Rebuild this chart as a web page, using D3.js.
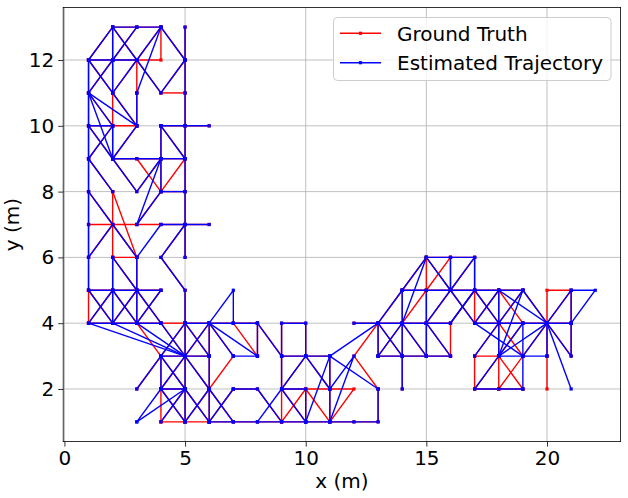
<!DOCTYPE html>
<html>
<head>
<meta charset="utf-8">
<script src="https://cdn.jsdelivr.net/npm/d3@7"></script>
<style>
  body { margin: 0; background: #fff; }
  text { font-family: "DejaVu Sans", sans-serif; }
</style>
</head>
<body>
<div id="chart"></div>
<script>
// trajectories as polylines, flat lists x0,y0, x1,y1, ...
// strokes that ground truth and estimate share
const commonPaths = [
  [2,13, 3,13, 4,13], [1,12, 2,13, 2,12], [2,13, 3,12], [3,13, 2,12], [3,12, 4,13, 5,12],
  [5,13, 5,12, 5,11, 5,10, 5,9, 5,8, 5,7, 5,6], [1,12, 2,12, 3,12],
  [1,12, 1,11, 1,10, 1,9, 1,8, 1,7, 1,6, 1,5], [1,12, 2,11], [2,12, 1,11], [2,12, 2,11],
  [3,12, 2,11, 3,10, 3,11], [3,12, 4,11, 5,12], [1,11, 2,10], [3,10, 2,9], [1,10, 2,9],
  [1,10, 2,10, 1,9], [2,10, 2,9], [2,9, 3,9, 4,9], [2,9, 3,8, 4,9], [4,10, 5,10, 6,10],
  [4,10, 4,9, 4,8], [4,10, 5,9], [4,9, 5,9], [4,8, 5,8], [4,8, 3,7], [1,9, 2,8],
  [1,8, 2,7, 3,6], [2,7, 1,6], [4,7, 5,7, 6,7], [5,7, 4,6, 5,5, 5,4],
  [2,6, 2,5, 2,4], [2,6, 3,5], [3,6, 3,5, 3,4], [1,5, 2,5, 3,5, 4,5], [1,5, 2,4],
  [2,5, 1,4], [2,5, 3,4], [3,5, 2,4], [3,5, 4,4], [4,5, 3,4], [1,4, 2,4, 3,4, 4,4],
  [4,4, 5,3], [5,4, 4,3], [5,4, 5,3, 5,2, 5,1], [5,4, 6,4, 7,4, 8,4], [5,4, 6,3],
  [6,4, 5,3], [6,4, 6,3, 6,2, 6,1], [6,4, 7,3], [8,4, 8,3], [8,4, 9,3], [4,3, 5,3, 6,3],
  [4,3, 4,2, 5,2], [4,3, 5,2], [5,3, 4,2], [5,3, 6,2], [3,2, 4,3], [4,2, 5,1], [5,2, 4,1],
  [5,2, 6,1], [6,2, 5,1], [6,2, 7,1], [7,2, 6,1],
  [6,1, 7,1, 8,1, 9,1, 10,1, 11,1, 12,1, 13,1, 13,2], [7,2, 8,2, 9,1],
  [9,3, 9,4, 10,4, 10,3], [9,3, 10,3, 11,3, 11,2, 11,1], [9,3, 9,2, 10,2, 10,1],
  [10,3, 9,2, 10,1], [10,3, 11,2], [12,4, 13,4, 13,3],
  [15,6, 16,6, 17,6, 17,5], [15,6, 14,5], [15,6, 16,5, 16,6], [17,6, 16,5],
  [14,5, 15,5, 16,5, 17,5, 18,5, 19,5], [14,5, 13,4], [14,5, 14,4], [15,5, 15,4],
  [16,5, 15,4], [16,5, 17,4], [13,4, 14,4, 15,4, 16,4, 17,5], [13,4, 14,3], [14,4, 13,3],
  [14,4, 15,3], [14,4, 14,3, 14,2], [15,4, 16,3], [15,4, 15,3], [13,3, 14,3, 15,3, 16,3],
  [17,5, 18,4], [18,5, 17,4], [18,5, 18,4, 18,3, 17,2, 18,2, 19,2], [19,5, 18,4],
  [19,5, 20,4, 21,5, 21,4, 21,3, 20,4], [17,4, 18,4, 19,4, 20,4, 21,4], [19,4, 18,3],
  [20,4, 19,3], [17,3, 18,4], [20,4, 20,3]
]

// strokes only in the ground truth
const truthOnly = [
  [4,13, 4,12, 3,12, 3,11], [4,11, 5,11], [2,11, 2,10, 3,10], [3,9, 4,8, 5,9],
  [2,8, 2,7], [2,8, 3,6, 2,6, 2,7], [1,7, 2,7, 3,7, 4,7], [1,5, 1,4], [4,4, 5,4],
  [3,4, 4,3], [7,4, 8,3], [7,3, 6,2], [4,2, 4,1, 5,1, 6,1],
  [9,2, 9,1, 10,2, 11,1, 12,2, 11,2, 10,2], [13,4, 12,3, 13,2], [15,6, 15,5, 16,6],
  [15,5, 14,4], [17,5, 17,4], [16,4, 16,3], [17,2, 17,3, 18,3, 18,2], [18,5, 19,4],
  [18,4, 19,3, 18,2], [18,3, 19,2], [20,4, 20,5, 21,5], [20,3, 20,2]
]

// strokes only in the estimate
const estimateOnly = [
  [4,13, 3,11], [1,11, 3,10], [1,11, 2,9], [4,9, 3,7], [3,6, 4,7], [1,4, 5,3],
  [2,4, 5,3], [3,4, 5,3], [6,4, 8,3, 7,3], [7,4, 7,5, 6,4], [3,1, 4,2], [3,1, 5,2],
  [9,2, 8,1], [10,1, 11,3, 13,2], [11,3, 13,4], [11,1, 12,3, 11,2], [15,6, 14,4],
  [17,5, 16,4], [19,5, 18,3], [19,4, 19,3, 19,2], [17,4, 19,3],
  [18,5, 20,4, 18,3, 19,3, 20,3], [20,4, 21,2], [21,5, 22,5, 21,4]
]

const xTicks = [0, 5, 10, 15, 20]
const yTicks = [2, 4, 6, 8, 10, 12]

const toPoints = flat => d3.range(0, flat.length, 2).map(i => [flat[i], flat[i + 1]])
const groundTruth = commonPaths.concat(truthOnly).map(toPoints)
const estimated = commonPaths.concat(estimateOnly).map(toPoints)

const WIDTH = 628
const HEIGHT = 498
const PLOT = { LEFT: 63.2, RIGHT: 620.6, TOP: 7.4, BOTTOM: 441.6 }

const svg = d3.select('#chart').append('svg')
  .attr('width', WIDTH)
  .attr('height', HEIGHT)

const x = d3.scaleLinear().domain([-0.05, 23.05]).range([PLOT.LEFT, PLOT.RIGHT])
const y = d3.scaleLinear().domain([0.4, 13.6]).range([PLOT.BOTTOM, PLOT.TOP])

// GRID
svg.append('g').selectAll('line').data(xTicks).enter().append('line')
  .attr('x1', d => x(d)).attr('x2', d => x(d))
  .attr('y1', PLOT.TOP).attr('y2', PLOT.BOTTOM)
  .attr('stroke', '#b0b0b0').attr('stroke-width', 0.8)
svg.append('g').selectAll('line').data(yTicks).enter().append('line')
  .attr('y1', d => y(d)).attr('y2', d => y(d))
  .attr('x1', PLOT.LEFT).attr('x2', PLOT.RIGHT)
  .attr('stroke', '#b0b0b0').attr('stroke-width', 0.8)

// TRAJECTORIES
const line = d3.line().x(d => x(d[0])).y(d => y(d[1]))

function drawSeries(paths, color) {
  const g = svg.append('g')
  g.selectAll('path').data(paths).enter().append('path')
    .attr('d', line)
    .attr('fill', 'none')
    .attr('stroke', color)
    .attr('stroke-width', 1.4)
  g.selectAll('rect').data(paths.flat()).enter().append('rect')
    .attr('x', d => x(d[0]) - 1.6)
    .attr('y', d => y(d[1]) - 1.6)
    .attr('width', 3.2)
    .attr('height', 3.2)
    .attr('fill', color)
}
drawSeries(groundTruth, '#ff0000')
drawSeries(estimated, '#0000ff')

// AXES
const xAxis = svg.append('g')
  .attr('transform', `translate(0, ${PLOT.BOTTOM})`)
  .call(d3.axisBottom(x).tickValues(xTicks).tickSize(5).tickPadding(4))
const yAxis = svg.append('g')
  .attr('transform', `translate(${PLOT.LEFT}, 0)`)
  .call(d3.axisLeft(y).tickValues(yTicks).tickSize(5).tickPadding(4))
;[xAxis, yAxis].forEach(a => {
  a.select('.domain').remove()
  a.selectAll('text').attr('font-size', '20px').attr('fill', '#000')
    .attr('font-family', '"DejaVu Sans", sans-serif')
  a.selectAll('line').attr('stroke', '#000').attr('stroke-width', 0.8)
})

svg.append('rect')
  .attr('x', PLOT.LEFT).attr('y', PLOT.TOP)
  .attr('width', PLOT.RIGHT - PLOT.LEFT).attr('height', PLOT.BOTTOM - PLOT.TOP)
  .attr('fill', 'none').attr('stroke', '#000').attr('stroke-width', 0.8)

// LABELS
svg.append('text')
  .attr('x', (PLOT.LEFT + PLOT.RIGHT) / 2)
  .attr('y', 488)
  .attr('font-size', '20px')
  .attr('text-anchor', 'middle')
  .text('x (m)')
svg.append('text')
  .attr('transform', `translate(19, ${(PLOT.TOP + PLOT.BOTTOM) / 2}) rotate(-90)`)
  .attr('font-size', '20px')
  .attr('text-anchor', 'middle')
  .text('y (m)')

// LEGEND
const legend = svg.append('g')
legend.append('rect')
  .attr('x', 333.5).attr('y', 17.5).attr('width', 277.5).attr('height', 63)
  .attr('rx', 4)
  .attr('fill', '#fff').attr('fill-opacity', 0.8)
  .attr('stroke', '#cccccc').attr('stroke-width', 1)
const entries = [['Ground Truth', '#ff0000'], ['Estimated Trajectory', '#0000ff']]
entries.forEach(([label, color], i) => {
  const ly = 33.3 + i * 29.4
  legend.append('line')
    .attr('x1', 340).attr('x2', 381).attr('y1', ly).attr('y2', ly)
    .attr('stroke', color).attr('stroke-width', 1.4)
  legend.append('rect')
    .attr('x', 358.9).attr('y', ly - 1.6).attr('width', 3.2).attr('height', 3.2)
    .attr('fill', color)
  legend.append('text')
    .attr('x', 397).attr('y', ly + 7.3)
    .attr('font-size', '20px')
    .text(label)
})
</script>
</body>
</html>
